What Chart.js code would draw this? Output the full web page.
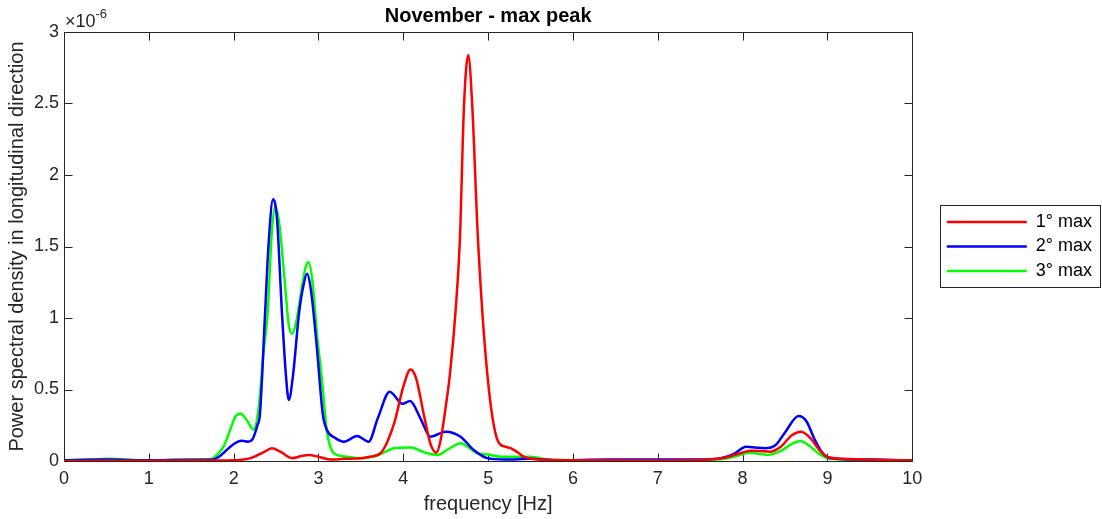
<!DOCTYPE html>
<html>
<head>
<meta charset="utf-8">
<script src="https://cdn.jsdelivr.net/npm/chart.js@4"></script>
<style>
  html, body { margin: 0; padding: 0; background: #fff; }
  #wrap { width: 1102px; height: 519px; }
</style>
</head>
<body>
<div id="wrap"><canvas id="psdChart" width="1102" height="519"></canvas></div>
<script>
// values, psd in units of 1e-6

// 1° max
const freq1 = [0, 0.5, 1, 1.5, 1.8, 2.0, 2.2, 2.35, 2.45, 2.55, 2.69, 2.8, 2.885, 3.0, 3.15, 3.3, 3.5, 3.6, 3.73, 3.89,
  4.0, 4.085, 4.15, 4.25, 4.32, 4.39, 4.44, 4.5, 4.55, 4.62, 4.667, 4.715, 4.766, 4.813, 4.88, 4.99, 5.11, 5.2, 5.27, 5.35,
  5.42, 5.6, 6, 7, 7.6, 7.8, 8.0, 8.1, 8.2, 8.32, 8.45, 8.58, 8.69, 8.8, 8.9, 9.0, 9.2, 9.5, 10];
const psd1 = [0, 0.002, 0.002, 0.003, 0.003, 0.005, 0.02, 0.06, 0.089, 0.065, 0.02, 0.035, 0.042, 0.03, 0.01, 0.015, 0.02, 0.03, 0.054, 0.26,
  0.52, 0.64, 0.58, 0.3, 0.12, 0.058, 0.147, 0.38, 0.61, 1.08, 1.55, 2.48, 2.84, 2.48, 1.55, 0.61, 0.147, 0.1, 0.089, 0.06,
  0.03, 0.01, 0.005, 0.003, 0.01, 0.025, 0.06, 0.072, 0.07, 0.065, 0.1, 0.18, 0.205, 0.16, 0.08, 0.03, 0.015, 0.01, 0.003];

// 2° max
const freq2 = [0, 0.5, 1, 1.5, 1.75, 1.85, 1.96, 2.05, 2.10, 2.17, 2.22, 2.28, 2.31, 2.37, 2.41, 2.464, 2.51, 2.57, 2.62, 2.65,
  2.7, 2.77, 2.82, 2.865, 2.91, 2.98, 3.05, 3.1, 3.2, 3.30, 3.455, 3.59, 3.7, 3.84, 3.99, 4.08, 4.2, 4.32, 4.5, 4.675,
  4.83, 4.99, 5.2, 5.5, 5.8, 6.4, 7, 7.5, 7.745, 7.9, 8.04, 8.15, 8.26, 8.39, 8.5, 8.66, 8.75, 8.85, 8.95, 9.04, 9.5, 10];
const psd2 = [0.005, 0.01, 0.005, 0.008, 0.01, 0.04, 0.1, 0.135, 0.142, 0.135, 0.15, 0.25, 0.33, 1.03, 1.5, 1.83, 1.7, 1.03, 0.57, 0.427,
  0.6, 1.03, 1.22, 1.31, 1.2, 0.8, 0.33, 0.217, 0.16, 0.135, 0.175, 0.135, 0.3, 0.485, 0.40, 0.42, 0.3, 0.17, 0.205, 0.17,
  0.077, 0.02, 0.01, 0.015, 0.005, 0.01, 0.01, 0.01, 0.02, 0.05, 0.1, 0.095, 0.089, 0.112, 0.2, 0.315, 0.28, 0.15, 0.05, 0.02, 0.01, 0.003];

// 3° max
const freq3 = [0, 0.3, 0.55, 0.8, 1.0, 1.3, 1.5, 1.72, 1.8, 1.88, 1.96, 2.02, 2.08, 2.15, 2.235, 2.3, 2.35, 2.40, 2.45, 2.49,
  2.54, 2.60, 2.65, 2.69, 2.74, 2.8, 2.85, 2.885, 2.93, 2.98, 3.04, 3.1, 3.14, 3.18, 3.34, 3.5, 3.7, 3.89, 4.09, 4.25,
  4.4, 4.55, 4.675, 4.78, 4.87, 4.99, 5.15, 5.5, 5.7, 6, 7, 7.7, 7.9, 8.08, 8.3, 8.45, 8.58, 8.68, 8.8, 8.9, 9.0, 9.5, 10];
const psd3 = [0.005, 0.01, 0.015, 0.008, 0.003, 0.008, 0.01, 0.01, 0.04, 0.1, 0.22, 0.31, 0.333, 0.29, 0.22, 0.4, 0.75, 1.03, 1.6, 1.78,
  1.65, 1.27, 0.95, 0.89, 0.98, 1.2, 1.36, 1.39, 1.25, 0.9, 0.57, 0.2, 0.1, 0.054, 0.03, 0.02, 0.04, 0.089, 0.095, 0.06,
  0.042, 0.09, 0.124, 0.09, 0.054, 0.045, 0.03, 0.03, 0.01, 0.005, 0.005, 0.01, 0.03, 0.058, 0.042, 0.07, 0.12, 0.14, 0.1, 0.05, 0.02, 0.005, 0.002];

const seriesNames = ['1° max', '2° max', '3° max'];
const seriesColors = ['#ff0000', '#0000ff', '#00ff00'];
const xTicks = [0, 1, 2, 3, 4, 5, 6, 7, 8, 9, 10];
const yTicks = [0, 0.5, 1, 1.5, 2, 2.5, 3];

const FONT = "'Liberation Sans', Arial, Helvetica, sans-serif";
const AXIS = '#262626';

function toPoints(xs, ys) {
    return xs.map((x, i) => ({ x: x, y: ys[i] }));
}

// box around the axes + inward ticks, like matlab does
const axesFrame = {
    id: 'axesFrame',
    beforeDatasetsDraw(chart) {
        const { ctx, chartArea: a, scales } = chart;
        const L = Math.round(a.left) + 0.5, R = Math.round(a.right) + 0.5;
        const T = Math.round(a.top) + 0.5, B = Math.round(a.bottom) + 0.5;
        const tick = 8;
        ctx.save();
        ctx.strokeStyle = AXIS;
        ctx.lineWidth = 1;
        ctx.beginPath();
        ctx.rect(L, T, R - L, B - T);
        xTicks.forEach(v => {
            const px = Math.round(scales.x.getPixelForValue(v)) + 0.5;
            ctx.moveTo(px, B); ctx.lineTo(px, B - tick);
            ctx.moveTo(px, T); ctx.lineTo(px, T + tick);
        });
        yTicks.forEach(v => {
            const py = Math.round(scales.y.getPixelForValue(v)) + 0.5;
            ctx.moveTo(L, py); ctx.lineTo(L + tick, py);
            ctx.moveTo(R, py); ctx.lineTo(R - tick, py);
        });
        ctx.stroke();
        ctx.restore();
    },
    afterDraw(chart) {
        const { ctx, chartArea: a } = chart;
        ctx.save();
        // exponent label
        ctx.fillStyle = AXIS;
        ctx.textBaseline = 'alphabetic';
        ctx.font = '18px ' + FONT;
        ctx.fillText('\u00d710', a.left + 1, a.top - 5);
        const w = ctx.measureText('\u00d710').width;
        ctx.font = '13px ' + FONT;
        ctx.fillText('-6', a.left + 1 + w, a.top - 14);
        // legend border
        const hb = chart.legend.legendHitBoxes;
        if (hb && hb.length) {
            const top = hb[0].top - 8;
            const bottom = hb[hb.length - 1].top + hb[hb.length - 1].height + 7;
            const left = hb[0].left - 7;
            const right = chart.width - 2;
            ctx.strokeStyle = AXIS;
            ctx.lineWidth = 1;
            ctx.strokeRect(Math.round(left) + 0.5, Math.round(top) + 0.5, Math.round(right - left), Math.round(bottom - top));
        }
        ctx.restore();
    }
};

const ctx = document.getElementById('psdChart');
new Chart(ctx, {
    type: 'line',
    data: {
        datasets: [
            { label: seriesNames[0], data: toPoints(freq1, psd1) },
            { label: seriesNames[1], data: toPoints(freq2, psd2) },
            { label: seriesNames[2], data: toPoints(freq3, psd3) }
        ].map((ds, i) => Object.assign(ds, {
            borderColor: seriesColors[i],
            backgroundColor: seriesColors[i],
            borderWidth: 2.5,
            pointRadius: 0,
            fill: false,
            cubicInterpolationMode: 'monotone'
        }))
    },
    options: {
        responsive: false,
        animation: false,
        events: [],
        layout: { padding: 0 },
        scales: {
            x: {
                type: 'linear',
                min: 0,
                max: 10,
                grid: { display: false, drawTicks: false },
                border: { display: false },
                ticks: { stepSize: 1, color: AXIS, padding: 7, font: { family: FONT, size: 18 },
                    callback: v => String(v) },
                title: {
                    display: true,
                    text: 'frequency [Hz]',
                    color: AXIS,
                    font: { family: FONT, size: 20 },
                    padding: { top: 0, bottom: 3 }
                },
                afterFit(scale) { scale.height = 58; }
            },
            y: {
                type: 'linear',
                min: 0,
                max: 3,
                grid: { display: false, drawTicks: false },
                border: { display: false },
                ticks: { stepSize: 0.5, color: AXIS, padding: 5, font: { family: FONT, size: 18 },
                    callback: v => String(v) },
                title: {
                    display: true,
                    text: 'Power spectral density in longitudinal direction',
                    color: AXIS,
                    font: { family: FONT, size: 20 },
                    padding: { top: 5, bottom: 0 }
                },
                afterFit(scale) { scale.width = 64; }
            },
            y2: {
                type: 'linear',
                position: 'right',
                min: 0,
                max: 3,
                grid: { display: false, drawTicks: false },
                border: { display: false },
                ticks: { display: false },
                afterFit(scale) { scale.width = 28; }
            }
        },
        plugins: {
            title: {
                display: true,
                fullSize: false,
                text: 'November - max peak',
                color: '#000',
                font: { family: FONT, size: 20, weight: 'bold' },
                padding: { top: 4, bottom: 4 }
            },
            legend: {
                position: 'right',
                align: 'center',
                fullSize: false,
                labels: {
                    boxWidth: 80,
                    boxHeight: 2.5,
                    padding: 6.5,
                    color: '#000',
                    font: { family: FONT, size: 18 },
                    generateLabels(chart) {
                        return chart.data.datasets.map((ds, i) => ({
                            text: ds.label,
                            fillStyle: seriesColors[i],
                            strokeStyle: seriesColors[i],
                            lineWidth: 0,
                            hidden: false,
                            datasetIndex: i
                        }));
                    }
                }
            },
            tooltip: { enabled: false }
        }
    },
    plugins: [axesFrame]
});
</script>
</body>
</html>
